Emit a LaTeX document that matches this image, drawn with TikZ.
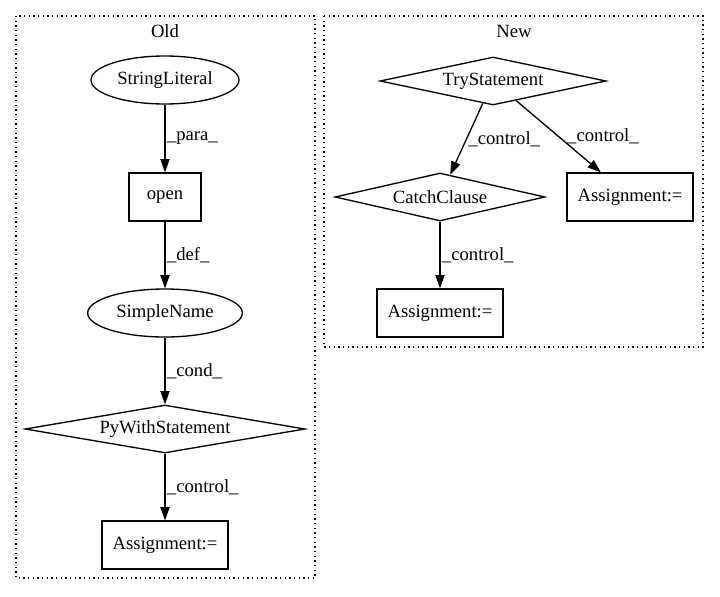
\documentclass[tikz,border=0pt]{standalone}
\usepackage{fontspec}
\setmainfont{Liberation Serif}
\usetikzlibrary{shapes.geometric}
\usetikzlibrary{arrows.meta}

\begin{document}
\begin{tikzpicture}[x=0.75pt,y=-0.75pt,line width=1pt,
        every node/.style={font=\fontsize{14}{16}\selectfont,inner sep=0pt},
        ell/.style={ellipse,draw,minimum height=36pt},
        box/.style={rectangle,draw,minimum height=36pt},
        dia/.style={diamond,draw,shape aspect=5,minimum height=36pt},
        lbl/.style={right,inner sep=1pt},
        cluster/.style={draw,dash pattern=on 1pt off 2.5pt}]

        %\draw [help lines] (0,0) grid (720,596);
        \useasboundingbox (0,0) rectangle (720,596);

        \draw[cluster] (16,16) rectangle (315,578);
        \draw[cluster] (324,16) rectangle (703,347);

        \path   (165,31) node (old) {Old}
                (514,31) node (new) {New};

        \path   (165,80) node (strlit) [ell,minimum width=111pt] {StringLiteral}
                (165,197) node (open) [box,minimum width=54pt] {open}
                (165,313) node (sname) [ell,minimum width=116pt] {SimpleName}
                (165,429) node (pywith) [dia,minimum width=210pt] {PyWithStatement}
                (165,545) node (assigna) [box,minimum width=94.5pt] {Assignment:=}
                (493,81) node (try) [dia,minimum width=169.5pt] {TryStatement}
                (440,197) node (catch) [dia,minimum width=157.5pt] {CatchClause}
                (630,197) node (assignb) [box,minimum width=94.5pt] {Assignment:=}
                (440,313) node (assignc) [box,minimum width=94.5pt] {Assignment:=};

        \draw[arrows = -{Triangle[length=10pt,width=7pt]}] (node cs: name =strlit) -- node[lbl] {\_para\_} (node cs: name =open);
        \draw[arrows = -{Triangle[length=10pt,width=7pt]}] (node cs: name =open) -- node[lbl] {\_def\_} (node cs: name =sname);
        \draw[arrows = -{Triangle[length=10pt,width=7pt]}] (node cs: name =sname) -- node[lbl] {\_cond\_} (node cs: name =pywith);
        \draw[arrows = -{Triangle[length=10pt,width=7pt]}] (node cs: name =pywith) -- node[lbl] {\_control\_} (node cs: name =assigna);
        \draw[arrows = -{Triangle[length=10pt,width=7pt]}] (node cs: name =try) -- node[lbl] {\_control\_} (node cs: name =catch);
        \draw[arrows = -{Triangle[length=10pt,width=7pt]}] (node cs: name =try) -- node[lbl,xshift=5pt] {\_control\_} (node cs: name =assignb);
        \draw[arrows = -{Triangle[length=10pt,width=7pt]}] (node cs: name =catch) -- node[lbl] {\_control\_} (node cs: name =assignc);

\end{tikzpicture}
\end{document}
